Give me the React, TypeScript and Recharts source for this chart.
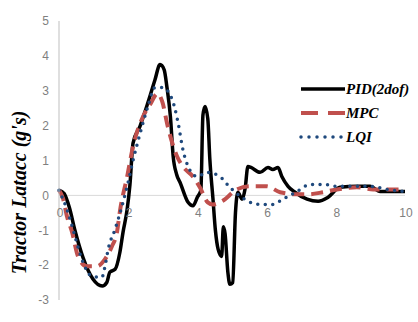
import { LineChart, Line, XAxis, YAxis, ReferenceLine, ReferenceDot, Legend } from "recharts";

// time (sec) and lateral accel (g's)
const pidTime = [0, 0.15, 0.3, 0.46, 0.7, 0.98, 1.25, 1.38, 1.47, 1.62, 1.76, 1.85, 1.97, 2.05, 2.14, 2.34, 2.57, 2.77, 2.92, 3.04, 3.12, 3.22, 3.3, 3.4, 3.5, 3.73, 3.87, 4.0, 4.1, 4.16, 4.22, 4.3, 4.36, 4.45, 4.52, 4.6, 4.7, 4.75, 4.8, 4.88, 4.94, 5.02, 5.1, 5.17, 5.29, 5.38, 5.46, 5.55, 5.81, 6.04, 6.18, 6.33, 6.44, 6.62, 6.82, 7.17, 7.49, 7.77, 8.12, 8.61, 8.99, 9.28, 9.65, 10];
const pidValue = [0.15, 0.05, -0.35, -1.0, -1.8, -2.4, -2.6, -2.5, -2.2, -2.12, -1.63, -1.06, -0.4, 0.3, 1.5, 1.98, 2.66, 3.3, 3.75, 3.6, 3.1, 2.26, 1.12, 0.6, 0.37, -0.2, -0.3, -0.05, 0.15, 2.3, 2.55, 2.2, 1.03, -0.1, -1.0, -1.55, -1.75, -0.9, -1.1, -2.2, -2.55, -2.5, -0.5, 0.09, -0.11, 0.2, 0.83, 0.8, 0.66, 0.8, 0.74, 0.8, 0.54, 0.26, 0.09, -0.11, -0.17, -0.06, 0.23, 0.26, 0.26, 0.11, 0.11, 0.11];

const mpcTime = [0, 0.12, 0.23, 0.38, 0.55, 0.8, 1.1, 1.33, 1.53, 1.68, 1.76, 1.97, 2.14, 2.43, 2.63, 2.85, 2.98, 3.15, 3.41, 3.58, 3.87, 4.07, 4.3, 4.45, 4.71, 5.14, 5.52, 6.0, 6.39, 6.88, 7.2, 7.63, 8.03, 8.61, 9.08, 9.65, 10];
const mpcValue = [0.15, -0.1, -0.6, -1.06, -1.75, -2.03, -2.03, -1.83, -1.46, -1.03, -0.46, 0.54, 1.4, 2.26, 2.6, 2.92, 2.7, 1.95, 1.12, 0.83, 0.54, 0.23, -0.2, -0.26, -0.17, 0.17, 0.26, 0.26, 0.09, 0.03, 0.03, 0.09, 0.17, 0.23, 0.17, 0.17, 0.17];

const lqiTime = [0, 0.26, 0.46, 0.66, 0.95, 1.24, 1.33, 1.42, 1.62, 1.82, 1.97, 2.14, 2.4, 2.57, 2.77, 3.0, 3.27, 3.44, 3.58, 3.73, 3.99, 4.28, 4.65, 4.94, 5.29, 5.46, 5.81, 6.16, 6.47, 6.88, 7.25, 7.69, 8.03, 8.5, 8.99, 9.48, 10];
const lqiValue = [0.15, -0.49, -1.17, -1.83, -2.32, -2.35, -2.03, -1.55, -0.97, -0.31, 0.26, 1.0, 1.98, 2.55, 3.09, 3.09, 2.75, 2.09, 1.32, 0.83, 0.54, 0.66, 0.54, 0.23, -0.06, -0.17, -0.26, -0.26, -0.11, 0.11, 0.31, 0.31, 0.26, 0.26, 0.26, 0.17, 0.11];

const xTicks = [0, 2, 4, 6, 8, 10];
const yTicks = [-3, -2, -1, 0, 1, 2, 3, 4, 5];
const seriesNames = ["PID(2dof)", "MPC", "LQI"];

const toPoints = (t: number[], v: number[]) => t.map((x, i) => ({ t: x, v: v[i] }));

const serif = "'Liberation Serif', 'Times New Roman', serif";
const sans = "'Liberation Sans', Arial, sans-serif";

const styles = [
  { color: "#000000", width: 3.5, dash: undefined, cap: "butt" as const, legendDash: undefined },
  { color: "#c0504d", width: 4, dash: "12 7", cap: "butt" as const, legendDash: "17 10" },
  { color: "#1f497d", width: 3.5, dash: "0 7.5", cap: "round" as const, legendDash: "0 8" },
];

const series = [
  toPoints(pidTime, pidValue),
  toPoints(mpcTime, mpcValue),
  toPoints(lqiTime, lqiValue),
];

function YTitle(props: any) {
  const { x, y, height } = props.viewBox;
  const cx = x + 19;
  const cy = y + height / 2 + 32;
  return (
    <text x={cx} y={cy} transform={`rotate(-90 ${cx} ${cy})`} textAnchor="middle" dominantBaseline="central"
      fontFamily={serif} fontWeight="bold" fontStyle="italic" fontSize={20} fill="#000">
      Tractor Latacc (g's)
    </text>
  );
}

function XTitle(props: any) {
  const { x, y, width } = props.viewBox;
  return (
    <text x={x + width / 2 + 2} y={y + 12} textAnchor="middle" dominantBaseline="central"
      fontFamily={serif} fontWeight="bold" fontStyle="italic" fontSize={19} fill="#000">
      Time (sec)
    </text>
  );
}

// x tick labels sit just under the zero line, like excel does it
function XTickLabel(props: any) {
  const vb = props.viewBox;
  const cx = vb.x + (vb.width || 0) / 2;
  const cy = vb.y + (vb.height || 0) / 2;
  return (
    <text x={cx + 1} y={cy + 18} textAnchor="middle" dominantBaseline="central" fontFamily={sans} fontSize={12} fill="#7f7f7f">
      {props.value}
    </text>
  );
}

function LegendBox() {
  return (
    <div>
      {seriesNames.map((name, i) => (
        <div key={name} style={{ display: "flex", alignItems: "center", height: 24 }}>
          <svg width={47} height={12}>
            <line x1={2} y1={6} x2={46} y2={6} stroke={styles[i].color} strokeWidth={styles[i].width}
              strokeDasharray={styles[i].legendDash} strokeLinecap={styles[i].cap} />
          </svg>
          <span style={{ fontFamily: serif, fontWeight: "bold", fontStyle: "italic", fontSize: 15, color: "#000" }}>{name}</span>
        </div>
      ))}
    </div>
  );
}

export default function App() {
  return (
    <div style={{ width: 418, height: 322, background: "#fff" }}>
      <style>{"body{margin:0}"}</style>
      <LineChart width={418} height={322} margin={{ top: 21, right: 13, bottom: 22, left: 0 }}>
        <XAxis dataKey="t" type="number" domain={[0, 10]} ticks={xTicks} height={0}
          axisLine={false} tickLine={false} tick={false} label={<XTitle />} />
        <YAxis type="number" domain={[-3, 5]} ticks={yTicks} width={59} tickLine={false} tickSize={6} tickMargin={4}
          axisLine={{ stroke: "#bfbfbf" }} tick={{ fill: "#7f7f7f", fontSize: 12, fontFamily: sans }}
          label={<YTitle />} />
        <ReferenceLine y={0} stroke="#d9d9d9" strokeWidth={1} />
        {xTicks.map((t) => (
          <ReferenceDot key={t} x={t} y={0} r={0} fill="none" stroke="none" label={<XTickLabel value={t} />} />
        ))}
        {series.map((pts, i) => (
          <Line key={seriesNames[i]} data={pts} dataKey="v" name={seriesNames[i]} type="monotone"
            stroke={styles[i].color} strokeWidth={styles[i].width} strokeDasharray={styles[i].dash}
            strokeLinecap={styles[i].cap} dot={false} activeDot={false} isAnimationActive={false} />
        ))}
        <Legend layout="horizontal" verticalAlign="middle" align="center" content={<LegendBox />}
          wrapperStyle={{ left: 299, top: 77, width: 119 }} />
      </LineChart>
    </div>
  );
}
